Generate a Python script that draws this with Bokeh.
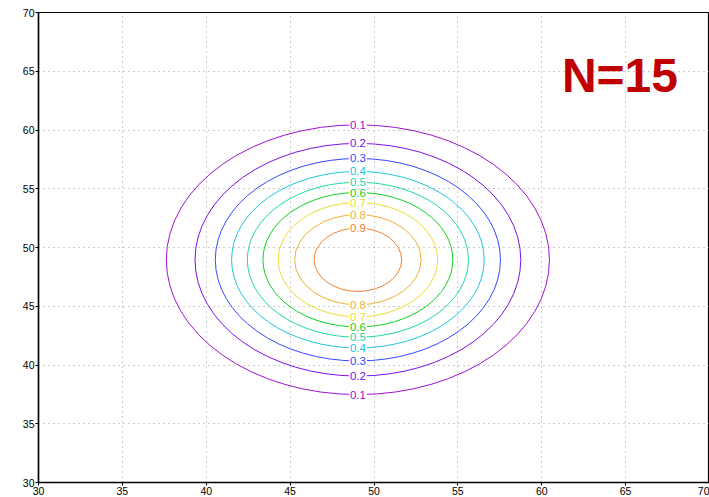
from bokeh.plotting import figure
from bokeh.models import ColumnDataSource, Range1d, FixedTicker
from bokeh.core.properties import value
from bokeh.embed import file_html
from bokeh.resources import INLINE

# data
levels = [0.1, 0.2, 0.3, 0.4, 0.5, 0.6, 0.7, 0.8, 0.9]
level_labels = ["0.1", "0.2", "0.3", "0.4", "0.5", "0.6", "0.7", "0.8", "0.9"]
center_x = 49.04
center_y = 48.96
half_widths = [11.42, 9.71, 8.50, 7.53, 6.59, 5.66, 4.75, 3.77, 2.61]
half_heights = [11.48, 9.90, 8.62, 7.51, 6.60, 5.72, 4.86, 3.84, 2.70]
level_colors = ["#a010d0", "#7a10e8", "#3548ff", "#20c4d8", "#20d8a8",
                "#10d020", "#ecdc30", "#f0b030", "#f08030"]
bottom_labelled = [True, True, True, True, True, True, True, True, False]
x_ticks = [30, 35, 40, 45, 50, 55, 60, 65, 70]
y_ticks = [30, 35, 40, 45, 50, 55, 60, 65, 70]
title_text = "N=15"

p = figure(width=709, height=497, output_backend="svg", toolbar_location=None,
           x_range=Range1d(30, 70), y_range=Range1d(30, 70),
           min_border_left=38, min_border_right=0, min_border_top=12,
           min_border_bottom=15)
p.background_fill_color = "white"
p.border_fill_color = "white"
p.outline_line_color = "black"
p.outline_line_width = 1.2

for ax, ticks in ((p.xaxis[0], x_ticks), (p.yaxis[0], y_ticks)):
    ax.ticker = FixedTicker(ticks=ticks)
    ax.axis_line_color = "black"
    ax.axis_line_width = 1.5
    ax.major_tick_in = 0
    ax.major_tick_out = 3
    ax.minor_tick_line_color = None
    ax.major_label_text_font = "Liberation Sans"
    ax.major_label_text_font_size = "10.5px"
    ax.major_label_text_color = "black"
    ax.major_label_standoff = 1

for g in (p.xgrid[0], p.ygrid[0]):
    g.ticker = FixedTicker(ticks=x_ticks)
    g.grid_line_color = "#9a9a9a"
    g.grid_line_dash = "1 4"
    g.grid_line_width = 1

src = ColumnDataSource(dict(
    x=[center_x] * len(levels), y=[center_y] * len(levels),
    w=[2 * v for v in half_widths], h=[2 * v for v in half_heights],
    c=level_colors))
p.ellipse(x="x", y="y", width="w", height="h", source=src,
          fill_color=None, line_color="c", line_width=1)

lx, ly, lt, lc = [], [], [], []
for i, lev in enumerate(levels):
    lx.append(center_x); ly.append(center_y + half_heights[i])
    lt.append(level_labels[i]); lc.append(level_colors[i])
    if bottom_labelled[i]:
        lx.append(center_x); ly.append(center_y - half_heights[i])
        lt.append(level_labels[i]); lc.append(level_colors[i])
lsrc = ColumnDataSource(dict(x=lx, y=ly, t=lt, c=lc))
p.text(x="x", y="y", text="t", source=lsrc, text_color="c",
       text_font=value("Liberation Sans"), text_font_size="11.5px",
       text_align="center", text_baseline="middle",
       background_fill_color="white", padding=1)

p.text(x=[61.2], y=[64.6], text=[title_text], text_color="#c00000",
       text_font=value("Liberation Sans"), text_font_style="bold",
       text_font_size="48px", text_align="left", text_baseline="middle")

open("out.html", "w").write(file_html(p, INLINE))
